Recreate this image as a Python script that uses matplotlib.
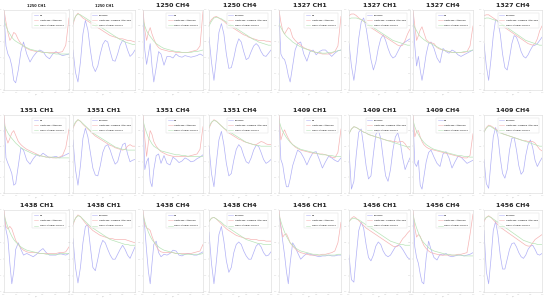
import matplotlib.pyplot as plt

# x stations (normalised chord) shared by all curves of one panel type
x_left = [0, .03, .06, .09, .12, .15, .18, .22, .26, .30, .35, .40, .45, .50,
          .55, .60, .65, .70, .75, .80, .85, .90, .95, 1.0]
x_right = [0, .04, .08, .12, .16, .20, .24, .28, .32, .36, .40, .44, .48, .52,
           .56, .60, .64, .68, .72, .76, .80, .84, .88, .92, .96, 1.0]

titles = ["1250 CH1", "1250 CH1", "1250 CH4", "1250 CH4",
          "1327 CH1", "1327 CH1", "1327 CH4", "1327 CH4",
          "1351 CH1", "1351 CH1", "1351 CH4", "1351 CH4",
          "1409 CH1", "1409 CH1", "1409 CH4", "1409 CH4",
          "1438 CH1", "1438 CH1", "1438 CH4", "1438 CH4",
          "1456 CH1", "1456 CH1", "1456 CH4", "1456 CH4"]

left_labels = ["Cp", "Unsteady Attached", "Quasi-Steady Cp,HSV"]
right_labels = ["Pressure", "Unsteady TI-Based Attached", "Quasi-Steady Cp,HSV"]

# ---- left (Cp) panels ----
b1250_1 = [0.95, 0.55, 0.45, 0.40, 0.30, 0.12, 0.09, 0.25, 0.48, 0.60, 0.45, 0.35, 0.42, 0.47, 0.50, 0.48, 0.42, 0.39, 0.45, 0.48, 0.45, 0.43, 0.44, 0.45]
r1250_1 = [1.0, 0.85, 0.72, 0.62, 0.66, 0.72, 0.70, 0.63, 0.58, 0.55, 0.52, 0.50, 0.49, 0.48, 0.48, 0.47, 0.47, 0.47, 0.47, 0.47, 0.47, 0.48, 0.56, 0.90]
g1250_1 = [0.88, 0.80, 0.74, 0.70, 0.66, 0.63, 0.61, 0.59, 0.57, 0.55, 0.53, 0.51, 0.50, 0.49, 0.48, 0.47, 0.47, 0.46, 0.46, 0.45, 0.45, 0.45, 0.45, 0.45]
b1250_4 = [0.95, 0.50, 0.32, 0.45, 0.58, 0.30, 0.10, 0.28, 0.48, 0.45, 0.31, 0.42, 0.42, 0.40, 0.45, 0.42, 0.41, 0.43, 0.42, 0.41, 0.42, 0.43, 0.45, 0.43]
r1250_4 = [1.0, 0.75, 0.62, 0.72, 0.78, 0.70, 0.64, 0.57, 0.53, 0.51, 0.50, 0.49, 0.48, 0.48, 0.47, 0.47, 0.47, 0.47, 0.47, 0.48, 0.49, 0.50, 0.55, 0.98]
g1250_4 = [0.88, 0.80, 0.74, 0.70, 0.67, 0.64, 0.61, 0.58, 0.56, 0.54, 0.52, 0.51, 0.50, 0.49, 0.48, 0.48, 0.47, 0.47, 0.47, 0.47, 0.48, 0.48, 0.49, 0.50]
b1327_1 = [0.95, 0.45, 0.40, 0.38, 0.30, 0.18, 0.10, 0.30, 0.50, 0.58, 0.60, 0.45, 0.36, 0.48, 0.50, 0.44, 0.48, 0.50, 0.50, 0.46, 0.42, 0.46, 0.49, 0.50]
r1327_1 = [1.0, 0.85, 0.74, 0.70, 0.74, 0.78, 0.76, 0.66, 0.62, 0.59, 0.56, 0.53, 0.51, 0.50, 0.48, 0.47, 0.46, 0.45, 0.45, 0.45, 0.46, 0.48, 0.55, 0.92]
g1327_1 = [0.83, 0.78, 0.74, 0.70, 0.67, 0.65, 0.63, 0.60, 0.58, 0.56, 0.54, 0.52, 0.51, 0.49, 0.48, 0.47, 0.47, 0.46, 0.46, 0.47, 0.47, 0.48, 0.49, 0.50]
b1327_4 = [0.95, 0.55, 0.30, 0.42, 0.25, 0.12, 0.25, 0.45, 0.58, 0.60, 0.52, 0.40, 0.34, 0.52, 0.48, 0.46, 0.50, 0.48, 0.44, 0.42, 0.44, 0.46, 0.48, 0.50]
r1327_4 = [1.0, 0.80, 0.62, 0.68, 0.75, 0.79, 0.72, 0.63, 0.60, 0.59, 0.58, 0.53, 0.51, 0.50, 0.49, 0.48, 0.47, 0.47, 0.47, 0.47, 0.47, 0.48, 0.55, 0.80]
g1327_4 = [0.83, 0.78, 0.74, 0.70, 0.67, 0.65, 0.63, 0.61, 0.59, 0.58, 0.56, 0.54, 0.52, 0.50, 0.49, 0.48, 0.47, 0.47, 0.47, 0.47, 0.48, 0.48, 0.49, 0.50]
b1351_1 = [0.95, 0.45, 0.38, 0.32, 0.25, 0.10, 0.12, 0.35, 0.58, 0.55, 0.42, 0.37, 0.44, 0.49, 0.47, 0.51, 0.48, 0.45, 0.46, 0.47, 0.45, 0.47, 0.49, 0.51]
r1351_1 = [1.0, 0.72, 0.64, 0.70, 0.77, 0.80, 0.74, 0.66, 0.62, 0.59, 0.56, 0.54, 0.52, 0.50, 0.48, 0.47, 0.46, 0.46, 0.45, 0.45, 0.46, 0.48, 0.58, 0.82]
g1351_1 = [0.88, 0.82, 0.77, 0.73, 0.70, 0.67, 0.64, 0.61, 0.58, 0.56, 0.54, 0.52, 0.50, 0.49, 0.48, 0.47, 0.46, 0.46, 0.46, 0.45, 0.45, 0.45, 0.45, 0.45]
b1351_4 = [0.95, 0.30, 0.40, 0.45, 0.15, 0.08, 0.30, 0.48, 0.50, 0.38, 0.48, 0.38, 0.36, 0.46, 0.43, 0.39, 0.41, 0.45, 0.43, 0.40, 0.41, 0.44, 0.46, 0.49]
r1351_4 = [1.0, 0.70, 0.47, 0.65, 0.80, 0.75, 0.66, 0.60, 0.56, 0.53, 0.51, 0.49, 0.48, 0.47, 0.47, 0.47, 0.47, 0.47, 0.47, 0.48, 0.49, 0.50, 0.56, 0.85]
g1351_4 = [0.93, 0.84, 0.77, 0.71, 0.67, 0.63, 0.60, 0.58, 0.56, 0.54, 0.53, 0.52, 0.51, 0.50, 0.49, 0.49, 0.48, 0.48, 0.47, 0.47, 0.47, 0.47, 0.47, 0.47]
b1409_1 = [0.95, 0.43, 0.36, 0.20, 0.08, 0.08, 0.18, 0.35, 0.45, 0.55, 0.52, 0.45, 0.36, 0.45, 0.52, 0.53, 0.43, 0.32, 0.40, 0.47, 0.45, 0.42, 0.40, 0.45]
r1409_1 = [1.0, 0.68, 0.76, 0.81, 0.75, 0.70, 0.66, 0.62, 0.59, 0.57, 0.55, 0.54, 0.53, 0.52, 0.51, 0.51, 0.50, 0.50, 0.49, 0.48, 0.46, 0.45, 0.52, 0.82]
g1409_1 = [0.93, 0.85, 0.79, 0.75, 0.71, 0.68, 0.65, 0.62, 0.60, 0.58, 0.56, 0.55, 0.54, 0.53, 0.52, 0.51, 0.50, 0.49, 0.49, 0.48, 0.48, 0.47, 0.47, 0.47]
b1409_4 = [0.95, 0.38, 0.34, 0.42, 0.10, 0.05, 0.20, 0.40, 0.52, 0.55, 0.46, 0.38, 0.34, 0.50, 0.53, 0.45, 0.32, 0.40, 0.47, 0.46, 0.42, 0.38, 0.40, 0.42]
r1409_4 = [1.0, 0.72, 0.79, 0.80, 0.72, 0.66, 0.62, 0.59, 0.57, 0.56, 0.55, 0.54, 0.53, 0.52, 0.51, 0.50, 0.49, 0.48, 0.47, 0.46, 0.45, 0.45, 0.48, 0.76]
g1409_4 = [0.93, 0.85, 0.79, 0.75, 0.71, 0.68, 0.65, 0.62, 0.60, 0.58, 0.56, 0.55, 0.54, 0.53, 0.52, 0.51, 0.50, 0.49, 0.48, 0.48, 0.47, 0.47, 0.46, 0.46]
b1438_1 = [0.95, 0.76, 0.65, 0.35, 0.10, 0.25, 0.52, 0.60, 0.52, 0.45, 0.47, 0.45, 0.43, 0.46, 0.50, 0.53, 0.48, 0.45, 0.45, 0.45, 0.47, 0.46, 0.45, 0.47]
r1438_1 = [1.0, 0.80, 0.77, 0.80, 0.77, 0.70, 0.63, 0.58, 0.54, 0.51, 0.49, 0.48, 0.48, 0.48, 0.47, 0.47, 0.47, 0.47, 0.47, 0.47, 0.48, 0.48, 0.49, 0.55]
g1438_1 = [0.94, 0.86, 0.79, 0.73, 0.68, 0.64, 0.61, 0.58, 0.55, 0.53, 0.51, 0.50, 0.49, 0.48, 0.47, 0.47, 0.46, 0.46, 0.46, 0.46, 0.46, 0.47, 0.47, 0.47]
b1438_4 = [0.95, 0.78, 0.50, 0.25, 0.10, 0.35, 0.58, 0.62, 0.48, 0.43, 0.46, 0.45, 0.47, 0.51, 0.50, 0.45, 0.44, 0.46, 0.47, 0.46, 0.45, 0.45, 0.47, 0.49]
r1438_4 = [1.0, 0.82, 0.78, 0.77, 0.75, 0.68, 0.62, 0.56, 0.51, 0.49, 0.48, 0.48, 0.48, 0.48, 0.47, 0.47, 0.47, 0.47, 0.47, 0.47, 0.48, 0.49, 0.50, 0.58]
g1438_4 = [0.94, 0.86, 0.79, 0.73, 0.68, 0.64, 0.61, 0.58, 0.55, 0.53, 0.51, 0.50, 0.49, 0.48, 0.47, 0.47, 0.46, 0.46, 0.46, 0.46, 0.46, 0.46, 0.46, 0.47]
b1456_1 = [0.95, 0.80, 0.62, 0.45, 0.25, 0.10, 0.35, 0.60, 0.55, 0.48, 0.40, 0.44, 0.47, 0.46, 0.45, 0.44, 0.43, 0.44, 0.44, 0.45, 0.44, 0.44, 0.45, 0.45]
r1456_1 = [1.0, 0.80, 0.67, 0.70, 0.71, 0.66, 0.60, 0.56, 0.53, 0.50, 0.48, 0.47, 0.46, 0.45, 0.45, 0.45, 0.45, 0.46, 0.46, 0.47, 0.48, 0.50, 0.60, 0.85]
g1456_1 = [0.94, 0.86, 0.79, 0.73, 0.68, 0.64, 0.60, 0.57, 0.54, 0.52, 0.50, 0.49, 0.48, 0.47, 0.46, 0.46, 0.45, 0.45, 0.45, 0.45, 0.45, 0.45, 0.46, 0.46]
b1456_4 = [0.95, 0.55, 0.42, 0.35, 0.22, 0.12, 0.10, 0.42, 0.62, 0.52, 0.42, 0.39, 0.46, 0.45, 0.47, 0.44, 0.43, 0.44, 0.45, 0.45, 0.44, 0.45, 0.46, 0.48]
r1456_4 = [1.0, 0.78, 0.67, 0.70, 0.68, 0.62, 0.57, 0.53, 0.50, 0.48, 0.47, 0.46, 0.45, 0.45, 0.45, 0.45, 0.45, 0.45, 0.46, 0.46, 0.47, 0.48, 0.70, 0.95]
g1456_4 = [0.94, 0.85, 0.78, 0.72, 0.67, 0.63, 0.60, 0.57, 0.54, 0.52, 0.50, 0.49, 0.48, 0.47, 0.46, 0.46, 0.45, 0.45, 0.45, 0.45, 0.44, 0.44, 0.44, 0.44]

# ---- right (pressure) panels ----
pb1250_1 = [0.50, 0.22, 0.10, 0.35, 0.70, 0.87, 0.75, 0.50, 0.30, 0.23, 0.30, 0.45, 0.57, 0.62, 0.60, 0.48, 0.37, 0.36, 0.45, 0.56, 0.62, 0.60, 0.50, 0.42, 0.45, 0.50]
pr1250_1 = [0.82, 0.92, 0.96, 0.93, 0.90, 0.88, 0.86, 0.84, 0.82, 0.80, 0.78, 0.76, 0.74, 0.72, 0.70, 0.68, 0.67, 0.66, 0.65, 0.64, 0.64, 0.63, 0.62, 0.62, 0.61, 0.60]
pg1250_1 = [0.85, 0.92, 0.95, 0.94, 0.92, 0.90, 0.88, 0.86, 0.84, 0.83, 0.81, 0.79, 0.77, 0.75, 0.73, 0.71, 0.69, 0.67, 0.65, 0.63, 0.62, 0.60, 0.59, 0.58, 0.57, 0.57]
pb1250_4 = [0.66, 0.35, 0.12, 0.40, 0.72, 0.83, 0.70, 0.45, 0.27, 0.28, 0.40, 0.55, 0.64, 0.60, 0.48, 0.38, 0.40, 0.48, 0.55, 0.58, 0.55, 0.48, 0.43, 0.42, 0.46, 0.50]
pr1250_4 = [0.83, 0.88, 0.91, 0.92, 0.90, 0.88, 0.86, 0.83, 0.81, 0.79, 0.77, 0.75, 0.73, 0.71, 0.69, 0.68, 0.66, 0.65, 0.64, 0.63, 0.62, 0.62, 0.62, 0.61, 0.61, 0.60]
pg1250_4 = [0.80, 0.86, 0.90, 0.91, 0.90, 0.89, 0.87, 0.85, 0.83, 0.81, 0.79, 0.77, 0.75, 0.73, 0.71, 0.69, 0.67, 0.65, 0.63, 0.62, 0.60, 0.59, 0.58, 0.57, 0.56, 0.56]
pb1327_1 = [0.58, 0.30, 0.12, 0.35, 0.65, 0.85, 0.90, 0.78, 0.58, 0.38, 0.25, 0.35, 0.52, 0.64, 0.69, 0.62, 0.52, 0.44, 0.40, 0.42, 0.48, 0.54, 0.58, 0.60, 0.62, 0.64]
pr1327_1 = [0.93, 0.95, 0.95, 0.93, 0.90, 0.88, 0.86, 0.84, 0.81, 0.78, 0.76, 0.74, 0.72, 0.70, 0.68, 0.66, 0.64, 0.62, 0.60, 0.58, 0.56, 0.55, 0.56, 0.62, 0.70, 0.76]
pg1327_1 = [0.89, 0.90, 0.90, 0.90, 0.89, 0.88, 0.86, 0.84, 0.82, 0.80, 0.78, 0.76, 0.74, 0.72, 0.70, 0.68, 0.66, 0.64, 0.62, 0.61, 0.60, 0.59, 0.58, 0.57, 0.56, 0.56]
pb1327_4 = [0.58, 0.30, 0.12, 0.38, 0.68, 0.88, 0.86, 0.70, 0.45, 0.28, 0.25, 0.40, 0.58, 0.68, 0.66, 0.58, 0.48, 0.42, 0.40, 0.44, 0.50, 0.55, 0.56, 0.58, 0.62, 0.66]
pr1327_4 = [0.93, 0.94, 0.94, 0.92, 0.90, 0.88, 0.86, 0.84, 0.81, 0.78, 0.76, 0.74, 0.72, 0.70, 0.68, 0.66, 0.64, 0.62, 0.60, 0.58, 0.57, 0.56, 0.58, 0.64, 0.74, 0.80]
pg1327_4 = [0.89, 0.90, 0.90, 0.89, 0.88, 0.87, 0.86, 0.84, 0.82, 0.80, 0.78, 0.76, 0.74, 0.72, 0.70, 0.68, 0.66, 0.64, 0.62, 0.61, 0.60, 0.59, 0.58, 0.57, 0.56, 0.56]
pb1351_1 = [0.68, 0.30, 0.10, 0.35, 0.70, 0.83, 0.72, 0.52, 0.32, 0.23, 0.22, 0.35, 0.52, 0.60, 0.62, 0.55, 0.45, 0.37, 0.40, 0.52, 0.62, 0.64, 0.50, 0.40, 0.42, 0.43]
pr1351_1 = [0.83, 0.90, 0.94, 0.92, 0.88, 0.85, 0.82, 0.79, 0.76, 0.73, 0.71, 0.69, 0.67, 0.65, 0.63, 0.61, 0.60, 0.58, 0.57, 0.56, 0.55, 0.56, 0.60, 0.62, 0.60, 0.60]
pg1351_1 = [0.85, 0.91, 0.94, 0.92, 0.89, 0.86, 0.83, 0.80, 0.77, 0.75, 0.73, 0.71, 0.69, 0.67, 0.65, 0.63, 0.61, 0.59, 0.58, 0.57, 0.56, 0.56, 0.55, 0.55, 0.55, 0.55]
pb1351_4 = [0.60, 0.25, 0.08, 0.40, 0.68, 0.79, 0.62, 0.38, 0.22, 0.25, 0.42, 0.56, 0.62, 0.58, 0.48, 0.40, 0.38, 0.45, 0.55, 0.61, 0.60, 0.52, 0.43, 0.38, 0.40, 0.43]
pr1351_4 = [0.83, 0.90, 0.94, 0.92, 0.89, 0.86, 0.83, 0.80, 0.77, 0.75, 0.73, 0.71, 0.69, 0.68, 0.66, 0.65, 0.64, 0.63, 0.62, 0.62, 0.64, 0.66, 0.65, 0.63, 0.62, 0.62]
pg1351_4 = [0.85, 0.91, 0.93, 0.92, 0.89, 0.86, 0.83, 0.81, 0.79, 0.77, 0.75, 0.73, 0.71, 0.69, 0.67, 0.65, 0.64, 0.63, 0.62, 0.61, 0.61, 0.60, 0.60, 0.60, 0.60, 0.60]
pb1409_1 = [0.55, 0.05, 0.15, 0.50, 0.78, 0.82, 0.60, 0.35, 0.18, 0.22, 0.50, 0.75, 0.81, 0.70, 0.45, 0.22, 0.15, 0.30, 0.55, 0.72, 0.77, 0.65, 0.45, 0.30, 0.38, 0.45]
pr1409_1 = [0.76, 0.82, 0.85, 0.84, 0.82, 0.80, 0.78, 0.77, 0.75, 0.74, 0.73, 0.72, 0.71, 0.70, 0.69, 0.68, 0.67, 0.67, 0.66, 0.66, 0.65, 0.66, 0.66, 0.63, 0.58, 0.55]
pg1409_1 = [0.76, 0.82, 0.85, 0.84, 0.82, 0.80, 0.78, 0.77, 0.75, 0.74, 0.73, 0.72, 0.71, 0.70, 0.69, 0.68, 0.67, 0.66, 0.65, 0.64, 0.63, 0.62, 0.61, 0.60, 0.59, 0.59]
pb1409_4 = [0.43, 0.12, 0.06, 0.40, 0.72, 0.84, 0.72, 0.45, 0.25, 0.19, 0.30, 0.55, 0.70, 0.71, 0.55, 0.35, 0.24, 0.28, 0.48, 0.62, 0.68, 0.58, 0.42, 0.34, 0.40, 0.45]
pr1409_4 = [0.78, 0.84, 0.87, 0.86, 0.84, 0.82, 0.80, 0.78, 0.76, 0.75, 0.74, 0.73, 0.72, 0.71, 0.70, 0.69, 0.68, 0.67, 0.67, 0.66, 0.66, 0.66, 0.64, 0.60, 0.56, 0.54]
pg1409_4 = [0.78, 0.83, 0.86, 0.85, 0.83, 0.81, 0.79, 0.77, 0.76, 0.75, 0.74, 0.73, 0.72, 0.71, 0.70, 0.69, 0.68, 0.67, 0.66, 0.65, 0.64, 0.63, 0.62, 0.61, 0.60, 0.60]
pb1438_1 = [0.65, 0.30, 0.11, 0.30, 0.60, 0.80, 0.82, 0.55, 0.30, 0.26, 0.40, 0.55, 0.63, 0.60, 0.52, 0.45, 0.40, 0.40, 0.46, 0.52, 0.57, 0.52, 0.45, 0.41, 0.48, 0.55]
pr1438_1 = [0.82, 0.90, 0.94, 0.92, 0.88, 0.84, 0.81, 0.78, 0.75, 0.73, 0.71, 0.69, 0.68, 0.67, 0.66, 0.65, 0.65, 0.64, 0.64, 0.64, 0.64, 0.64, 0.63, 0.62, 0.61, 0.60]
pg1438_1 = [0.84, 0.90, 0.93, 0.92, 0.89, 0.86, 0.83, 0.80, 0.78, 0.76, 0.74, 0.72, 0.70, 0.68, 0.66, 0.64, 0.63, 0.62, 0.61, 0.60, 0.59, 0.58, 0.58, 0.57, 0.57, 0.57]
pb1438_4 = [0.73, 0.35, 0.10, 0.38, 0.70, 0.80, 0.62, 0.38, 0.24, 0.30, 0.48, 0.58, 0.61, 0.58, 0.50, 0.44, 0.40, 0.40, 0.48, 0.56, 0.59, 0.55, 0.48, 0.44, 0.45, 0.49]
pr1438_4 = [0.86, 0.90, 0.91, 0.89, 0.86, 0.83, 0.80, 0.77, 0.75, 0.73, 0.71, 0.69, 0.68, 0.67, 0.66, 0.65, 0.65, 0.64, 0.64, 0.64, 0.63, 0.63, 0.63, 0.62, 0.62, 0.62]
pg1438_4 = [0.86, 0.90, 0.91, 0.89, 0.87, 0.85, 0.82, 0.80, 0.78, 0.76, 0.74, 0.72, 0.70, 0.68, 0.66, 0.64, 0.63, 0.62, 0.61, 0.60, 0.59, 0.59, 0.58, 0.58, 0.58, 0.58]
pb1456_1 = [0.45, 0.15, 0.12, 0.45, 0.75, 0.85, 0.78, 0.58, 0.42, 0.38, 0.45, 0.56, 0.61, 0.58, 0.50, 0.45, 0.43, 0.45, 0.50, 0.55, 0.57, 0.56, 0.52, 0.47, 0.42, 0.40]
pr1456_1 = [0.86, 0.90, 0.92, 0.90, 0.87, 0.84, 0.81, 0.78, 0.76, 0.74, 0.72, 0.70, 0.68, 0.66, 0.64, 0.62, 0.60, 0.58, 0.56, 0.55, 0.56, 0.60, 0.65, 0.68, 0.72, 0.75]
pg1456_1 = [0.86, 0.89, 0.90, 0.89, 0.88, 0.86, 0.84, 0.82, 0.80, 0.78, 0.76, 0.74, 0.72, 0.70, 0.68, 0.66, 0.64, 0.62, 0.61, 0.60, 0.59, 0.58, 0.58, 0.57, 0.57, 0.57]
pb1456_4 = [0.75, 0.25, 0.10, 0.40, 0.75, 0.86, 0.70, 0.45, 0.28, 0.28, 0.40, 0.52, 0.59, 0.60, 0.55, 0.48, 0.43, 0.41, 0.45, 0.52, 0.56, 0.57, 0.52, 0.46, 0.45, 0.47]
pr1456_4 = [0.86, 0.91, 0.93, 0.91, 0.88, 0.85, 0.82, 0.79, 0.77, 0.75, 0.73, 0.71, 0.69, 0.67, 0.65, 0.63, 0.61, 0.59, 0.57, 0.56, 0.56, 0.60, 0.64, 0.66, 0.68, 0.70]
pg1456_4 = [0.88, 0.91, 0.92, 0.91, 0.89, 0.87, 0.85, 0.83, 0.81, 0.79, 0.77, 0.75, 0.73, 0.71, 0.69, 0.67, 0.65, 0.63, 0.62, 0.61, 0.60, 0.59, 0.59, 0.58, 0.58, 0.58]

panel_data = [
    (b1250_1, r1250_1, g1250_1), (pb1250_1, pr1250_1, pg1250_1),
    (b1250_4, r1250_4, g1250_4), (pb1250_4, pr1250_4, pg1250_4),
    (b1327_1, r1327_1, g1327_1), (pb1327_1, pr1327_1, pg1327_1),
    (b1327_4, r1327_4, g1327_4), (pb1327_4, pr1327_4, pg1327_4),
    (b1351_1, r1351_1, g1351_1), (pb1351_1, pr1351_1, pg1351_1),
    (b1351_4, r1351_4, g1351_4), (pb1351_4, pr1351_4, pg1351_4),
    (b1409_1, r1409_1, g1409_1), (pb1409_1, pr1409_1, pg1409_1),
    (b1409_4, r1409_4, g1409_4), (pb1409_4, pr1409_4, pg1409_4),
    (b1438_1, r1438_1, g1438_1), (pb1438_1, pr1438_1, pg1438_1),
    (b1438_4, r1438_4, g1438_4), (pb1438_4, pr1438_4, pg1438_4),
    (b1456_1, r1456_1, g1456_1), (pb1456_1, pr1456_1, pg1456_1),
    (b1456_4, r1456_4, g1456_4), (pb1456_4, pr1456_4, pg1456_4),
]

W, H = 550, 298
col_left = [4, 73, 143, 209, 279, 349, 413, 484]
col_width = [65, 62, 60, 62, 62, 61, 60, 58]
row_top = [10, 115, 210]
row_bot = [90, 193, 292]

BLUE, RED, GREEN = "#b0b0f6", "#f6b4b4", "#b8e4b8"

fig = plt.figure(figsize=(W / 100, H / 100), dpi=100)

for i, (blue, red, green) in enumerate(panel_data):
    r, c = divmod(i, 8)
    ax = fig.add_axes([col_left[c] / W, 1 - row_bot[r] / H,
                       col_width[c] / W, (row_bot[r] - row_top[r]) / H])
    is_left = c % 2 == 0
    xs = x_left if is_left else x_right
    labels = left_labels if is_left else right_labels
    ax.plot(xs, blue, color=BLUE, lw=0.5, label=labels[0])
    ax.plot(xs, red, color=RED, lw=0.5, label=labels[1])
    ax.plot(xs, green, color=GREEN, lw=0.5, label=labels[2])
    ax.set_xlim(0, 1)
    ax.set_ylim(0, 1.0)
    for s in ax.spines.values():
        s.set_color("#d8d8d8")
        s.set_linewidth(0.4)
    ax.tick_params(length=1, width=0.3, colors="#cccccc", labelsize=1.5, pad=0.5)
    ax.set_xticks([0, .2, .4, .6, .8, 1.0])
    ax.set_yticks([0, .2, .4, .6, .8, 1.0])
    ax.set_xlabel("x/c", fontsize=1.5, color="#b8b8b8", labelpad=0.5)
    fs = 2.5 if i < 2 else 4.5
    ax.set_title(titles[i], fontsize=fs, fontweight="bold", color="#222222", pad=2)
    leg = ax.legend(loc="upper right", fontsize=1.6, frameon=True, handlelength=2,
                    borderpad=0.8, labelspacing=1.6, bbox_to_anchor=(0.97, 0.98))
    leg.get_frame().set_linewidth(0.3)
    leg.get_frame().set_edgecolor("#d4d4d4")
    leg.get_frame().set_boxstyle("square", pad=0)
    for line in leg.get_lines():
        line.set_linewidth(0.4)

fig.savefig("out.png", dpi=100)
